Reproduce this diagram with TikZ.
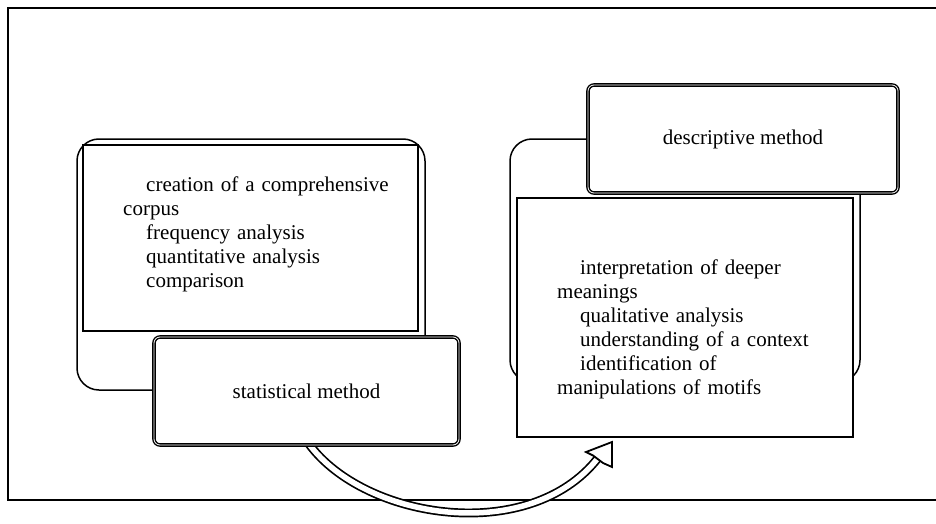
\documentclass[tikz,border=0pt]{standalone}
\usepackage{fontspec}
\setmainfont{Liberation Serif}
\begin{document}
\begin{tikzpicture}[x=1pt,y=-1pt,
  frameline/.style={line width=1.6pt},
  roundframe/.style={draw, line width=1.5pt, rounded corners=22pt, inner sep=0pt, fill=white},
  plainbox/.style={draw, line width=1.5pt, inner sep=0pt, fill=white},
  methodbox/.style={draw, double, double distance=0.8pt, line width=1.4pt, rounded corners=6pt, inner sep=0pt, fill=white, font=\fontsize{21}{24}\selectfont},
  listtext/.style={inner sep=0pt, align=left, font=\fontsize{21}{24}\selectfont},
  bigarrow/.style={draw, double, double distance=5.5pt, line width=1.7pt}
]
\useasboundingbox (0,0) rectangle (936,524);
% outer frame (open on the right)
\draw[frameline] (936,8) -- (8,8) -- (8,500) -- (936,500);

% left group
\node[roundframe, minimum width=348pt, minimum height=251pt] (leftframe) at (251,264.5) {};
\node[plainbox, minimum width=335pt, minimum height=186pt] (leftinner) at (250.5,238) {};
\node[listtext, text width=295pt, anchor=base west] (lefttext) at (123,191)
  {\hspace*{23pt}creation of a comprehensive\\corpus\\\hspace*{23pt}frequency analysis\\\hspace*{23pt}quantitative analysis\\\hspace*{23pt}comparison};

% right group
\node[roundframe, minimum width=350pt, minimum height=243pt] (rightframe) at (685,260.5) {};
\node[plainbox, minimum width=336pt, minimum height=239pt] (rightinner) at (685,317.5) {};
\node[listtext, text width=280pt, anchor=base west] (righttext) at (557,274)
  {\hspace*{23pt}interpretation of deeper\\meanings\\\hspace*{23pt}qualitative analysis\\\hspace*{23pt}understanding of a context\\\hspace*{23pt}identification of\\manipulations of motifs};

% arrow (drawn before the method box so the box covers its start)
\coordinate (arrowend) at (598,458);
\coordinate (arrowtip) at (612,442);
\coordinate (arrowstart) at (309,444);
\draw[bigarrow] (arrowstart) .. controls (365,520) and (530,545) .. (arrowend);
\draw[line width=1.8pt, fill=white, line join=miter]
  (arrowtip) -- (586,452) -- (593,455.5) -- (603,463) -- (612,467) -- cycle;

% method boxes
\node[methodbox, minimum width=305pt, minimum height=108pt] (stat) at (306.5,391) {statistical method};
\node[methodbox, minimum width=310pt, minimum height=108pt] (desc) at (743,139) {descriptive method};
\end{tikzpicture}
\end{document}
